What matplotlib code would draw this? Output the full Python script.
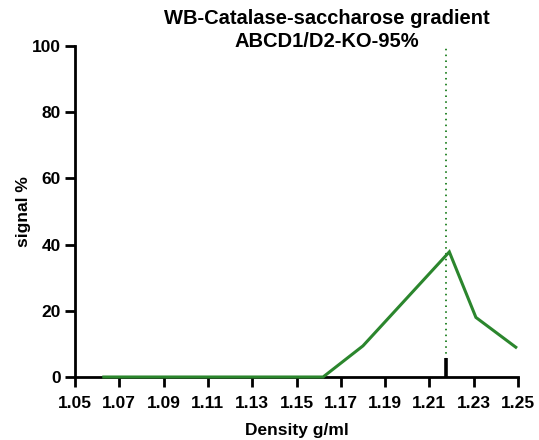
import numpy as np
import matplotlib
matplotlib.use('Agg')
import matplotlib.pyplot as plt

plt.rcParams['font.family'] = ['Liberation Sans', 'DejaVu Sans']
plt.rcParams['font.weight'] = 'bold'

# Profil de densité
density = [1.063, 1.162, 1.180, 1.219, 1.231, 1.249]
signal = [0.0, 0.0, 9.4, 37.8, 18.0, 9.0]

peak_density = 1.2177   # fraction du pic (ligne pointillée)
marker_height = 5.7     # petit repère noir sur l'axe

xticks = [1.05, 1.07, 1.09, 1.11, 1.13, 1.15, 1.17, 1.19, 1.21, 1.23, 1.25]
yticks = [0, 20, 40, 60, 80, 100]

fig = plt.figure(figsize=(5.39, 4.40), dpi=100)
ax = fig.add_axes([75/539, 1 - 377/440, (518 - 75)/539, (377 - 46)/440])

ax.plot(density, signal, color='#2b862d', lw=2.2, solid_joinstyle='miter',
        zorder=5, clip_on=False)
ax.axvline(peak_density, color='#2b862d', lw=1.4, ls=(0, (0.8, 2.2)), zorder=1)
ax.vlines(peak_density, 0, marker_height, color='black', lw=2.6, zorder=3)

ax.set_xlim(1.05, 1.25)
ax.set_ylim(0, 100)
ax.set_xticks(xticks)
ax.set_xticklabels([f'{v:.2f}' for v in xticks])
ax.set_yticks(yticks)

for side in ['top', 'right']:
    ax.spines[side].set_visible(False)
for side in ['left', 'bottom']:
    ax.spines[side].set_linewidth(2)
    ax.spines[side].set_zorder(4)
ax.tick_params(width=2, length=7, labelsize=12.5)
ax.tick_params(axis='x', pad=7)
ax.tick_params(axis='y', pad=3)

ax.set_xlabel('Density g/ml', fontsize=12.5, fontweight='bold', labelpad=8)
ax.set_ylabel('signal %', fontsize=12.5, fontweight='bold', labelpad=1)
fig.text(327/539, 1 - 30/440, 'WB-Catalase-saccharose gradient\nABCD1/D2-KO-95%',
         ha='center', va='center', fontsize=14.5, fontweight='bold', linespacing=1.25)

fig.savefig('out.png', dpi=100)
